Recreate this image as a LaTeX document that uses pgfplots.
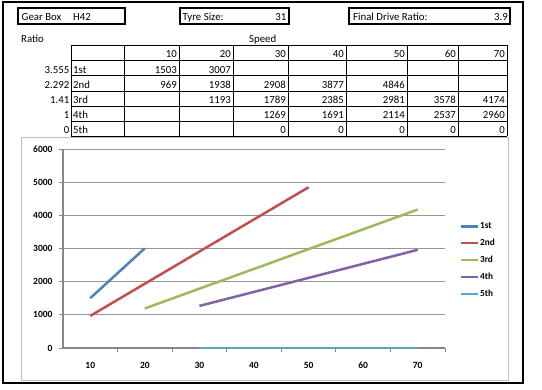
\documentclass[border=0pt]{standalone}
\usepackage{pgfplots}
\pgfplotsset{compat=1.18}
\usepackage{fontspec}
\setmainfont{Carlito}
\definecolor{s1}{HTML}{4F81BD}
\definecolor{s2}{HTML}{C0504D}
\definecolor{s3}{HTML}{9BBB59}
\definecolor{s4}{HTML}{8064A2}
\definecolor{s5}{HTML}{4BACC6}
\definecolor{axgray}{HTML}{868686}
\definecolor{gridgray}{HTML}{969696}
\definecolor{framegray}{HTML}{BFBFBF}
\newcommand\tf{\fontsize{10.8}{12}\selectfont}
\newcommand\cf{\bfseries\fontsize{9.5}{10}\selectfont}
\newcommand\lf{\bfseries\fontsize{9.3}{10}\selectfont}
\begin{document}
\begin{tikzpicture}[x=1pt,y=-1pt]
\path[use as bounding box] (0,0) rectangle (542,390);
% outer frame
\draw[line width=2.4pt] (3,1.8) rectangle (523,383);
% header boxes
\draw[line width=2pt] (18,8) rectangle (125,24);
\draw[line width=2pt] (180,8) rectangle (289,24);
\draw[line width=2pt] (349,8) rectangle (510,24);
\begin{scope}[every node/.style={inner sep=0pt,font=\tf}]
\node[anchor=base west] at (21.5,20.3) {Gear Box};
\node[anchor=base west] at (73,20.3) {H42};
\node[anchor=base west] at (182.5,20.3) {Tyre Size:};
\node[anchor=base east] at (286.5,20.3) {31};
\node[anchor=base west] at (353,20.3) {Final Drive Ratio:};
\node[anchor=base east] at (508,20.3) {3.9};
\node[anchor=base west] at (21,42.5) {Ratio};
\node[anchor=base west] at (249,42.5) {Speed};
% table grid
\foreach \y in {45,60,75.5,91,106,121,136} \draw[line width=0.9pt] (71,\y) -- (507,\y);
\foreach \x in {71,124,179,233,288,346,407,458,507} \draw[line width=0.9pt] (\x,45) -- (\x,136);
% header row
\foreach \x/\t in {177/10,231/20,286/30,344/40,405/50,456/60,505/70}
  \node[anchor=base east] at (\x,57.8) {\t};
% ratio and gear
\foreach \y/\r/\g in {73.2/3.555/1st,88.7/2.292/2nd,103.8/1.41/3rd,118.8/1/4th,133.8/0/5th}{
  \node[anchor=base east] at (69.5,\y) {\r};
  \node[anchor=base west] at (73,\y) {\g};
}
% values
\foreach \x/\t in {177/1503,231/3007} \node[anchor=base east] at (\x,73.2) {\t};
\foreach \x/\t in {177/969,231/1938,286/2908,344/3877,405/4846} \node[anchor=base east] at (\x,88.7) {\t};
\foreach \x/\t in {231/1193,286/1789,344/2385,405/2981,456/3578,505/4174} \node[anchor=base east] at (\x,103.8) {\t};
\foreach \x/\t in {286/1269,344/1691,405/2114,456/2537,505/2960} \node[anchor=base east] at (\x,118.8) {\t};
\foreach \x/\t in {286/0,344/0,405/0,456/0,505/0} \node[anchor=base east] at (\x,133.8) {\t};
\end{scope}
% chart area
\draw[framegray, line width=1pt] (21.5,137.5) rectangle (508,381);
\begin{axis}[
  at={(63pt,-348pt)}, anchor=south west,
  scale only axis, width=382pt, height=199pt,
  xmin=5, xmax=75, ymin=0, ymax=6000,
  axis x line*=bottom, axis y line*=left,
  axis line style={draw=axgray, line width=1.3pt},
  xtick={10,20,...,70}, minor xtick={15,25,...,75},
  ytick={0,1000,...,6000},
  tick align=outside,
  major x tick style={draw=none},
  tick style={draw=axgray, line width=0.9pt},
  major tick length=4pt, minor tick length=4pt,
  ymajorgrids, grid style={draw=gridgray, line width=0.9pt},
  ticklabel style={font=\cf},
  xticklabel style={anchor=north, text height=6.5pt, text depth=0pt, yshift=-6pt},
  yticklabel style={xshift=-3pt},
  /pgf/number format/assume math mode=true,
  /pgf/number format/1000 sep={},
  clip=false,
  legend image code/.code={\draw[line width=2.2pt] (0pt,0pt) -- (17pt,0pt);},
  legend style={draw=none, fill=none, at={(1.039,0.441)}, anchor=west,
    font=\lf, row sep=7.2pt, inner sep=0pt, nodes={inner sep=0.8pt}},
  legend cell align=left,
  every axis plot/.append style={line width=2.5pt, mark=none},
]
\addplot[s1] coordinates {(10,1503) (20,3007)};
\addplot[s2] coordinates {(10,969) (20,1938) (30,2908) (40,3877) (50,4846)};
\addplot[s3] coordinates {(20,1193) (30,1789) (40,2385) (50,2981) (60,3578) (70,4174)};
\addplot[s4] coordinates {(30,1269) (40,1691) (50,2114) (60,2537) (70,2960)};
\addplot[s5] coordinates {(30,0) (40,0) (50,0) (60,0) (70,0)};
\legend{1st,2nd,3rd,4th,5th}
\end{axis}
\end{tikzpicture}
\end{document}
